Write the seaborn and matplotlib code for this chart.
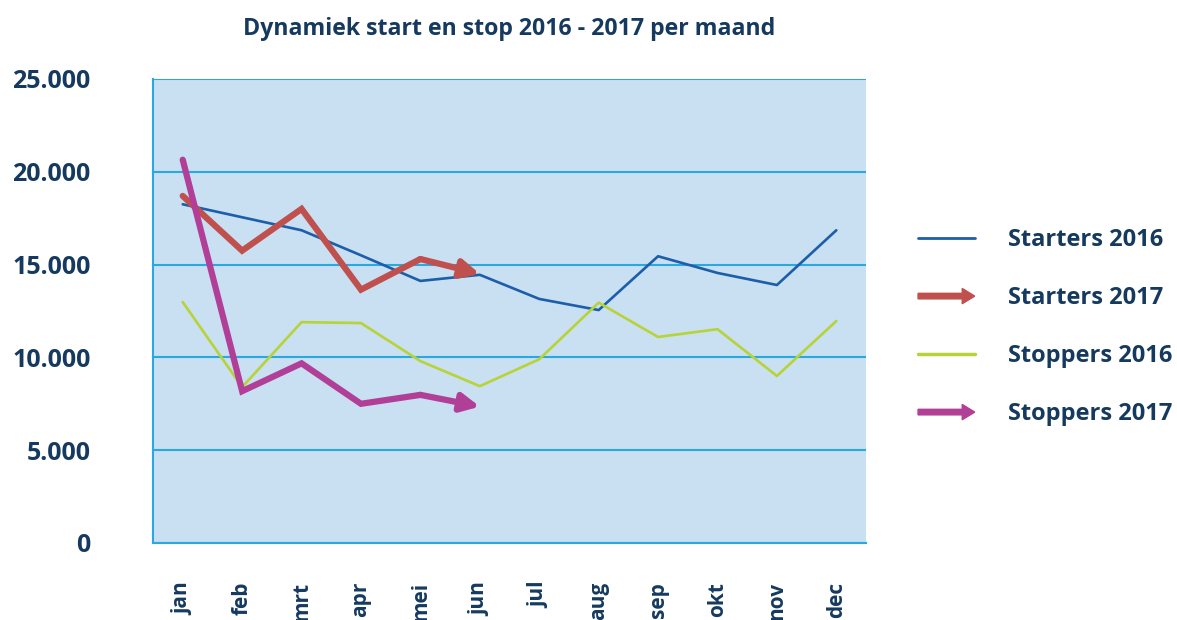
import numpy as np
import pandas as pd
import matplotlib
matplotlib.use("Agg")
import matplotlib.pyplot as plt
import seaborn as sns
from matplotlib.legend_handler import HandlerBase
from matplotlib.lines import Line2D
from matplotlib.patches import FancyArrow

# data (in absolute numbers)
months = ["jan", "feb", "mrt", "apr", "mei", "jun", "jul", "aug", "sep", "okt", "nov", "dec"]
starters_2016 = [18250, 17550, 16850, 15500, 14120, 14450, 13150, 12550, 15450, 14550, 13900, 16850]
starters_2017 = [18700, 15750, 18000, 13650, 15300, 14500]
stoppers_2016 = [12980, 8400, 11900, 11850, 9800, 8450, 9900, 12950, 11100, 11520, 9000, 11960]
stoppers_2017 = [20650, 8180, 9680, 7500, 7980, 7350]

NAVY = "#163a5f"
BG = "#c8e0f2"
GRID = "#2aa8e0"
colors = {
    "Starters 2016": "#1c5ea9",
    "Starters 2017": "#c0504d",
    "Stoppers 2016": "#b7d337",
    "Stoppers 2017": "#b23f97",
}

sns.set_theme(style="white")
plt.rcParams["font.family"] = ["Open Sans", "DejaVu Sans"]


class ArrowHandler(HandlerBase):
    """Legend handle drawn as a thick arrow."""

    def __init__(self, color, **kw):
        super().__init__(**kw)
        self.color = color

    def create_artists(self, legend, orig_handle, xdescent, ydescent,
                       width, height, fontsize, trans):
        y = height / 2 - ydescent
        arr = FancyArrow(-xdescent, y, width, 0, width=4.0, head_width=11,
                         head_length=9, length_includes_head=True,
                         color=self.color, transform=trans)
        return [arr]


fig = plt.figure(figsize=(11.77, 6.2), dpi=100)
ax = fig.add_axes([0.13, 0.1242, 0.6058, 0.7484])
ax.set_facecolor(BG)

x_all = np.arange(len(months))

sns.lineplot(x=x_all, y=starters_2016, ax=ax, color=colors["Starters 2016"],
             linewidth=1.9, zorder=3)
sns.lineplot(x=x_all, y=stoppers_2016, ax=ax, color=colors["Stoppers 2016"],
             linewidth=1.9, zorder=3)

# 2017 series: line up to the second-to-last month, arrow on the last segment
for name, vals in [("Starters 2017", starters_2017), ("Stoppers 2017", stoppers_2017)]:
    xs = np.arange(len(vals))
    sns.lineplot(x=xs[:-1], y=vals[:-1], ax=ax, color=colors[name], linewidth=4.5,
                 zorder=4, solid_capstyle="round", solid_joinstyle="miter")
    ax.annotate("", xy=(xs[-1], vals[-1]), xytext=(xs[-2], vals[-2]),
                arrowprops=dict(arrowstyle="-|>,head_length=0.9,head_width=0.45",
                                color=colors[name], lw=4.5, shrinkA=0, shrinkB=0,
                                capstyle="round"),
                zorder=4)

ax.set_xlim(-0.5, 11.5)
ax.set_ylim(0, 25000)
ax.set_yticks(np.arange(0, 25001, 5000))
ax.set_yticklabels([f"{v:,}".replace(",", ".") for v in range(0, 25001, 5000)])
ax.set_xticks(x_all)
ax.set_xticklabels(months, rotation=90, va="top")
ax.tick_params(axis="y", length=0, pad=45, labelsize=18, labelcolor=NAVY)
ax.tick_params(axis="x", length=0, pad=28, labelsize=15, labelcolor=NAVY)
for lab in ax.get_xticklabels() + ax.get_yticklabels():
    lab.set_fontweight("bold")

ax.yaxis.grid(True, color=GRID, linewidth=1.5)
ax.xaxis.grid(False)
ax.set_axisbelow(True)
for side in ["top", "right"]:
    ax.spines[side].set_visible(False)
for side in ["left", "bottom"]:
    ax.spines[side].set_color(GRID)
    ax.spines[side].set_linewidth(1.5)

ax.set_title("Dynamiek start en stop 2016 - 2017 per maand", fontsize=16.7,
             fontweight="bold", color=NAVY, pad=31.5)

# legend: plain lines for 2016, arrows for 2017
h_s16 = Line2D([], [], color=colors["Starters 2016"], linewidth=2)
h_s17 = Line2D([], [], color=colors["Starters 2017"])
h_p16 = Line2D([], [], color=colors["Stoppers 2016"], linewidth=2.5)
h_p17 = Line2D([], [], color=colors["Stoppers 2017"])
labels = ["Starters 2016", "Starters 2017", "Stoppers 2016", "Stoppers 2017"]
leg = fig.legend([h_s16, h_s17, h_p16, h_p17], labels, loc="center left",
                 bbox_to_anchor=(0.78, 0.472),
                 frameon=False, handlelength=2.4, handletextpad=1.4,
                 labelspacing=1.44, borderpad=0, borderaxespad=0,
                 prop={"size": 17, "weight": "bold"},
                 handler_map={h_s17: ArrowHandler(colors["Starters 2017"]),
                              h_p17: ArrowHandler(colors["Stoppers 2017"])})
for t in leg.get_texts():
    t.set_color(NAVY)

fig.savefig("out.png", dpi=100)
